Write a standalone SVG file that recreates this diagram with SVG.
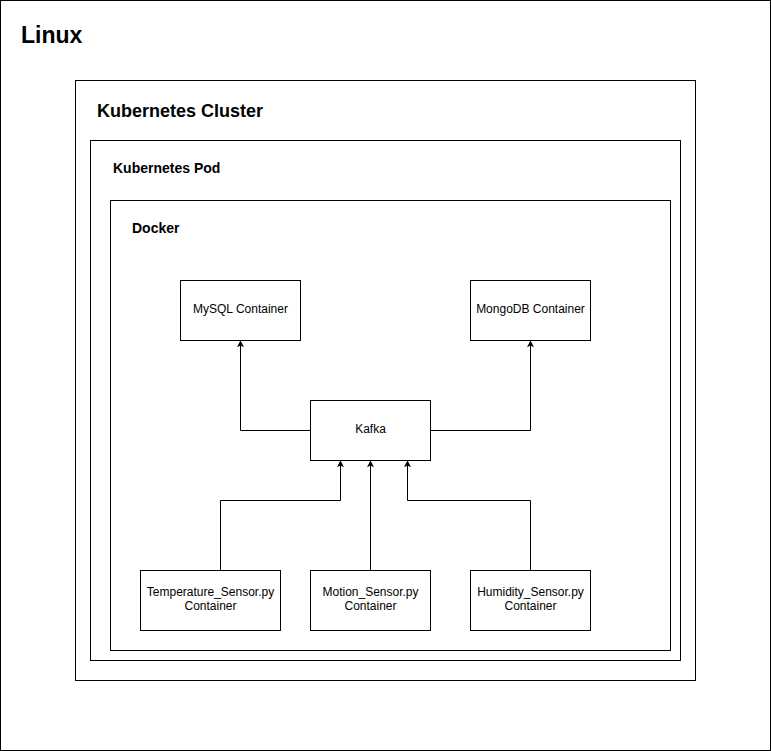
<svg xmlns="http://www.w3.org/2000/svg" width="771" height="751" viewBox="0 0 771 751">
<style>
.box{fill:#fff;stroke:#000;stroke-width:1}
.t{font-family:"Liberation Sans",Arial,sans-serif;fill:#000}
.b{font-weight:bold}
.n{font-size:12px;text-anchor:middle}
.e{fill:none;stroke:#000;stroke-width:1}
</style>
<defs>
<marker id="ah" viewBox="0 0 10 10" refX="9" refY="5" markerWidth="7" markerHeight="7" markerUnits="userSpaceOnUse" orient="auto">
<path d="M0,0 L10,5 L0,10 L2.5,5 Z" fill="#000"/>
</marker>
</defs>
<rect width="771" height="751" fill="#fff"/>
<g id="linux"><rect class="box" x="0.5" y="0.5" width="770" height="750"/><text class="t b" x="21" y="43" font-size="23">Linux</text></g>
<g id="cluster"><rect class="box" x="75.5" y="80.5" width="620" height="600"/><text class="t b" x="97" y="117" font-size="18">Kubernetes Cluster</text></g>
<g id="pod"><rect class="box" x="90.5" y="140.5" width="590" height="520"/><text class="t b" x="113" y="173" font-size="14">Kubernetes Pod</text></g>
<g id="docker"><rect class="box" x="110.5" y="200.5" width="560" height="450"/><text class="t b" x="132" y="233" font-size="14">Docker</text></g>
<g id="edges">
<path class="e" d="M310.5,430.5 H240.5 V341" marker-end="url(#ah)"/>
<path class="e" d="M430.5,430.5 H530.5 V341" marker-end="url(#ah)"/>
<path class="e" d="M220.5,570.5 V500.5 H340.5 V461" marker-end="url(#ah)"/>
<path class="e" d="M370.5,570.5 V461" marker-end="url(#ah)"/>
<path class="e" d="M530.5,570.5 V500.5 H407.5 V461" marker-end="url(#ah)"/>
</g>
<g id="mysql"><rect class="box" x="180.5" y="280.5" width="120" height="60"/><text class="t n" x="240.5" y="313">MySQL Container</text></g>
<g id="mongodb"><rect class="box" x="470.5" y="280.5" width="120" height="60"/><text class="t n" x="530.5" y="313">MongoDB Container</text></g>
<g id="kafka"><rect class="box" x="310.5" y="400.5" width="120" height="60"/><text class="t n" x="370.5" y="433">Kafka</text></g>
<g id="temp"><rect class="box" x="140.5" y="570.5" width="140" height="60"/><text class="t n" x="210.5" y="596">Temperature_Sensor.py</text><text class="t n" x="210.5" y="610">Container</text></g>
<g id="motion"><rect class="box" x="310.5" y="570.5" width="120" height="60"/><text class="t n" x="370.5" y="596">Motion_Sensor.py</text><text class="t n" x="370.5" y="610">Container</text></g>
<g id="humidity"><rect class="box" x="470.5" y="570.5" width="120" height="60"/><text class="t n" x="530.5" y="596">Humidity_Sensor.py</text><text class="t n" x="530.5" y="610">Container</text></g>
</svg>
